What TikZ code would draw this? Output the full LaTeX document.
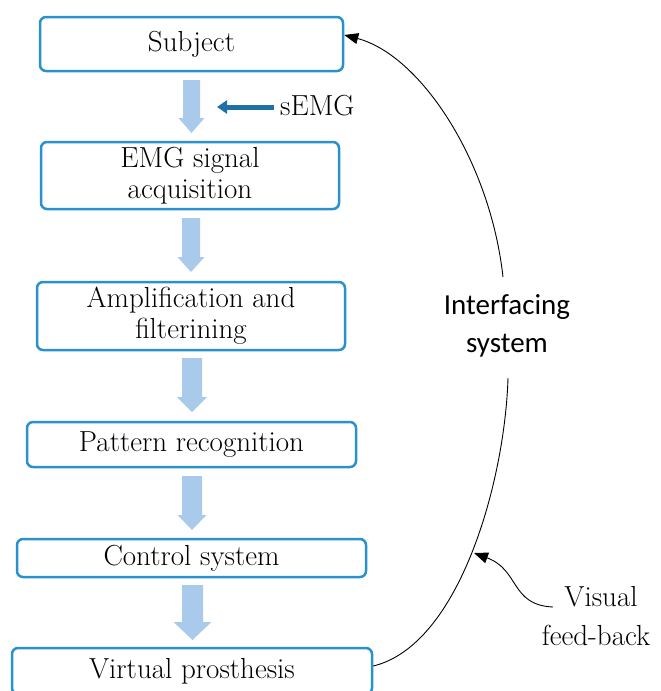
\documentclass[tikz,border=0pt]{standalone}
\usepackage{fontspec}
\newfontfamily\carl{Carlito}
\usetikzlibrary{arrows.meta}
\definecolor{boxblue}{RGB}{41,146,206}
\definecolor{lightarr}{RGB}{170,202,236}
\definecolor{semgblue}{RGB}{30,112,166}
\newcommand\palfont{\fontsize{29}{31}\selectfont}
% #1 x, #2 top y, #3 tip y, #4 shaft width, #5 head width, #6 head start y
\newcommand\BArrow[6]{\fill[lightarr] ({#1-#4/2},#2) -- ({#1+#4/2},#2) -- ({#1+#4/2},#6) -- ({#1+#5/2},#6) -- (#1,#3) -- ({#1-#5/2},#6) -- ({#1-#4/2},#6) -- cycle;}
\begin{document}
\begin{tikzpicture}[x=1pt,y=-1pt,
  box/.style={draw=boxblue, line width=2.5pt, rounded corners=6pt, fill=white, inner sep=0pt, align=center, font=\palfont},
  curve/.style={draw=black, line width=0.9pt},
  tip/.style={-{Triangle[length=14pt,width=11pt]}},
  lbl/.style={font=\palfont, align=center, inner sep=0pt}]
\useasboundingbox (0,0) rectangle (661,691);

\node[box, minimum width=303pt, minimum height=54pt] (subj) at (191.5,44) {Subject};
\node[box, minimum width=298pt, minimum height=67pt] (emg) at (190,175.5) {\raisebox{-3pt}{EMG signal}\\\raisebox{-3pt}{acquisition}};
\node[box, minimum width=308pt, minimum height=68pt] (amp) at (191,316) {Amplification and\\filterining};
\node[box, minimum width=329pt, minimum height=45pt] (pat) at (191.5,444.5) {Pattern recognition};
\node[box, minimum width=349pt, minimum height=38pt] (ctl) at (191.5,558) {Control system};
\node[box, minimum width=360pt, minimum height=46pt] (vp) at (192,671) {\raisebox{3pt}{Virtual prosthesis}};

\BArrow{191.5}{80}{133}{17}{26}{118}
\BArrow{191}{218}{272}{18}{27}{257}
\BArrow{192}{358}{412}{20}{30}{397}
\BArrow{192}{476}{530}{20}{29}{515}
\BArrow{192.5}{585}{640}{21}{38}{622}

\node[lbl, anchor=west] (semg) at (280,106) {sEMG};
\coordinate (semgstart) at (274,107);
\coordinate (semgend) at (217,107);
\draw[semgblue, line width=5pt, -{Triangle[length=10pt,width=13pt]}] (semgstart) -- (semgend);

\node[font=\carl\fontsize{29}{38}\selectfont, align=center, inner sep=0pt] (intf) at (507,326) {Interfacing\\system};
\coordinate (ilow) at (508,378);
\coordinate (ihigh) at (503,277);
\draw[curve] ([yshift=5pt]vp.east) .. controls (460,645) and (505,480) .. (ilow);
\draw[curve, tip] (ihigh) .. controls (490,160) and (420,55) .. ([yshift=9pt]subj.east);

\node[lbl] (vis) at (601,597) {Visual};
\node[lbl] (fb) at (596,635) {feed-back};
\coordinate (vfstart) at (553,607);
\coordinate (vftip) at (474,553);
\draw[curve, tip] (vfstart) .. controls (510,605) and (520,570) .. (vftip);
\end{tikzpicture}
\end{document}
